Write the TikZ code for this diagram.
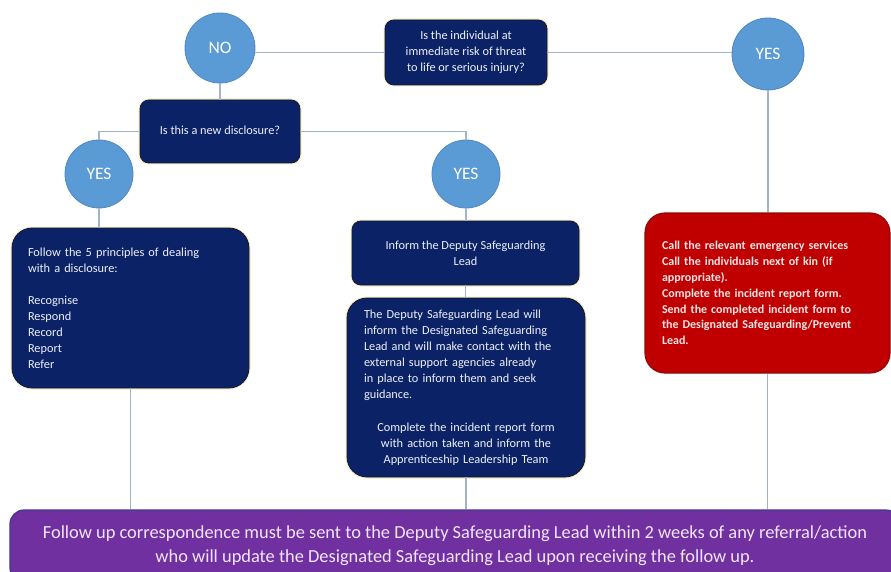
\documentclass[tikz,border=0pt]{standalone}
\usepackage{fontspec}
\setmainfont{Carlito}
\definecolor{navy}{HTML}{0B2266}
\definecolor{navyedge}{HTML}{14163A}
\definecolor{glow}{HTML}{F4EEC0}
\definecolor{circfill}{HTML}{5B9BD5}
\definecolor{circedge}{HTML}{4C87C2}
\definecolor{redfill}{HTML}{C00000}
\definecolor{rededge}{HTML}{8E0A0A}
\definecolor{purplefill}{HTML}{7030A0}
\definecolor{purpleedge}{HTML}{3E3A8E}
\definecolor{conn}{HTML}{A3B3C9}
\definecolor{boxtext}{HTML}{EEF0F8}
\definecolor{redtext}{HTML}{FBE6E6}
\definecolor{purpletext}{HTML}{F3E6FF}
\tikzset{
  navybox/.style={rectangle, rounded corners=9pt, fill=navy, draw=navyedge, line width=0.8pt,
    preaction={draw=glow, line width=3pt}, text=boxtext, inner sep=0pt,
    font=\fontsize{12.3}{16}\selectfont},
  bigbox/.style={navybox, rounded corners=20pt},
  decision/.style={circle, fill=circfill, draw=circedge, line width=0.8pt, text=white,
    inner sep=0pt, font=\fontsize{17.5}{20}\selectfont},
  redbox/.style={rectangle, rounded corners=20pt, fill=redfill, draw=rededge, line width=1.2pt,
    text=redtext, inner sep=0pt, font=\bfseries\fontsize{12}{15.9}\selectfont},
  purplebox/.style={rectangle, rounded corners=14pt, fill=purplefill, draw=purpleedge, line width=1.2pt,
    text=purpletext, inner sep=0pt, font=\fontsize{18.4}{24}\selectfont},
  link/.style={draw=conn, line width=1.2pt}
}
\begin{document}
\begin{tikzpicture}[x=1pt,y=-1pt]
\useasboundingbox (0,0) rectangle (891,572);
\fill[white] (0,0) rectangle (891,572);

% top question
\node[navybox, minimum width=162pt, minimum height=65pt, align=center] (q1) at (466,52.5)
  {Is the individual at\\immediate risk of threat\\to life or serious injury?};
\node[decision, minimum size=70pt] (no) at (220,48) {NO};
\node[decision, minimum size=72pt] (yesR) at (768,54) {YES};

% second question
\node[navybox, minimum width=160pt, minimum height=63pt] (q2) at (220,131.5)
  {\raisebox{3pt}{Is this a new disclosure?}};
\node[decision, minimum size=68pt] (yesL) at (99,174) {YES};
\node[decision, minimum size=68pt] (yesM) at (466,174) {YES};

% left box
\node[bigbox, minimum width=237pt, minimum height=160pt, text width=205pt, align=left] (boxL) at (130.5,308)
  {Follow the 5 principles of dealing\\with a disclosure:\\[16pt]Recognise\\Respond\\Record\\Report\\Refer};

% middle boxes
\node[navybox, minimum width=227pt, minimum height=64pt, align=center] (inform) at (465.5,253)
  {Inform the Deputy Safeguarding\\Lead};
\node[bigbox, minimum width=238pt, minimum height=179pt, text width=204pt] (boxM) at (466,387.5)
  {{\raggedright The Deputy Safeguarding Lead will\\inform the Designated Safeguarding\\Lead and will make contact with the\\external support agencies already\\in place to inform them and seek\\guidance.\par}\vspace{17pt}{\centering Complete the incident report form\\with action taken and inform the\\Apprenticeship Leadership Team\par}};

% red box
\node[redbox, minimum width=245pt, minimum height=160pt, text width=211pt, align=left] (red) at (767.5,293)
  {Call the relevant emergency services\\Call the individuals next of kin (if\\appropriate).\\Complete the incident report form.\\Send the completed incident form to\\the Designated Safeguarding/Prevent\\Lead.};

% bottom box
\begin{scope}
\clip (0,0) rectangle (891,572);
\node[purplebox, minimum width=890pt, minimum height=72pt, align=center] (follow) at (455,546)
  {Follow up correspondence must be sent to the Deputy Safeguarding Lead within 2 weeks of any referral/action\\who will update the Designated Safeguarding Lead upon receiving the follow up.};
\end{scope}

% connectors
\draw[link] (q1.west) -- (q1.west -| no.east);
\draw[link] (q1.east) -- (q1.east -| yesR.west);
\draw[link] (no.south) -- (q2.north);
\draw[link] (q2.east) -| (yesM.north);
\draw[link] (q2.west) -| (yesL.north);
\draw[link] (yesL.south) -- (yesL.south |- boxL.north);
\draw[link] (yesM.south) -- (yesM.south |- inform.north);
\draw[link] (inform.south) -- (inform.south |- boxM.north);
\draw[link] (yesR.south) -- (yesR.south |- red.north);
\draw[link] (boxL.south) -- (boxL.south |- follow.north);
\draw[link] (boxM.south) -- (boxM.south |- follow.north);
\draw[link] (red.south) -- (red.south |- follow.north);
\end{tikzpicture}
\end{document}
